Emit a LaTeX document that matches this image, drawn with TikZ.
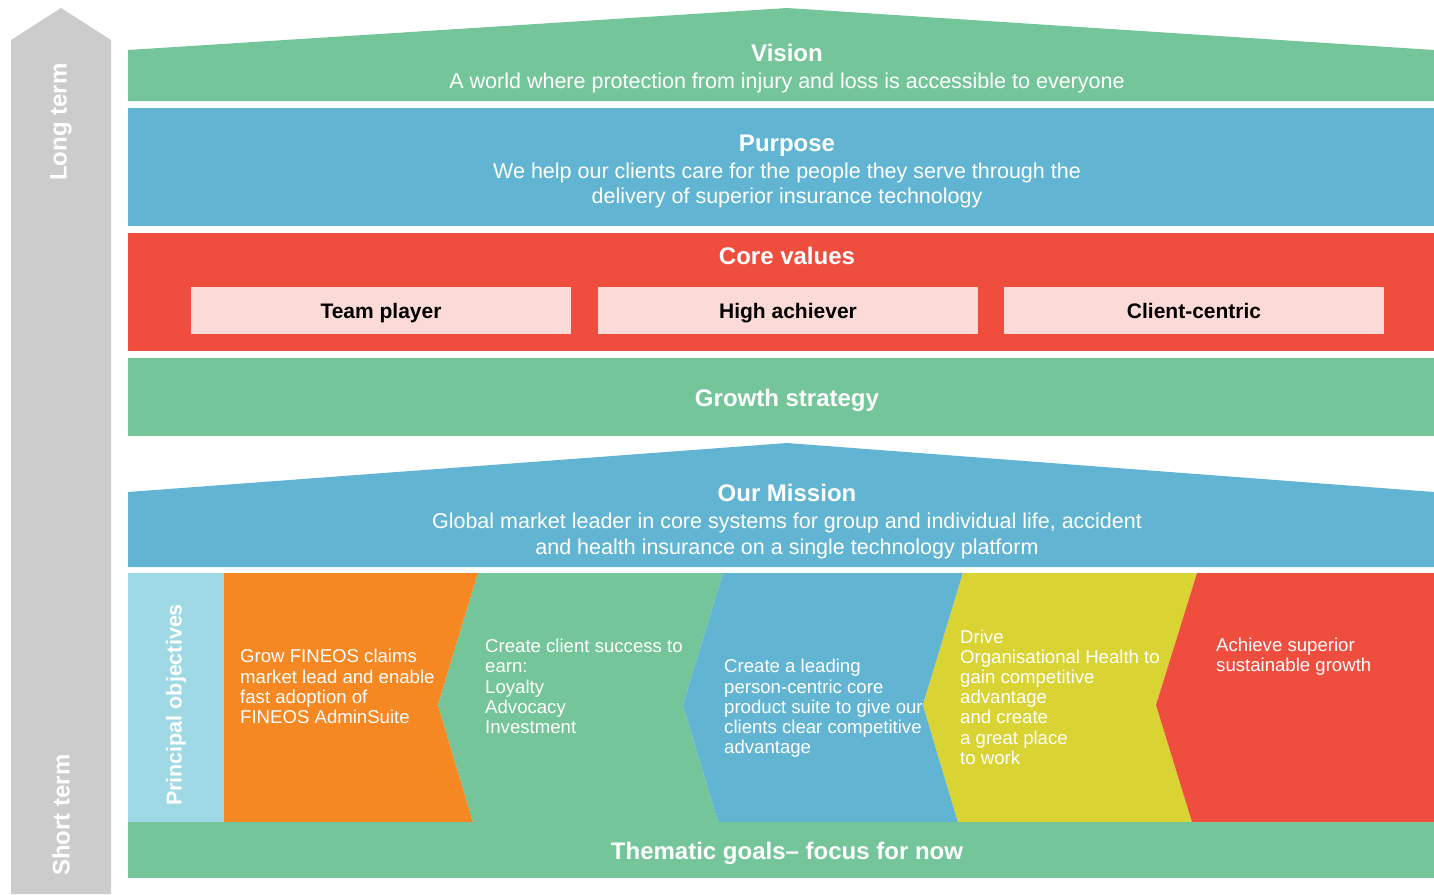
\documentclass[tikz,border=0pt]{standalone}
\usepackage{fontspec}
\setmainfont{Liberation Sans}
\definecolor{vgreen}{HTML}{74C69A}
\definecolor{vblue}{HTML}{62B5D2}
\definecolor{vred}{HTML}{EF4E3F}
\definecolor{vpink}{HTML}{FBDAD7}
\definecolor{vgray}{HTML}{CCCCCC}
\definecolor{vlblue}{HTML}{9FD9E5}
\definecolor{vorange}{HTML}{F58823}
\definecolor{vyellow}{HTML}{D9D334}
\newcommand{\fsz}[2]{\fontsize{#1}{#2}\selectfont}
\begin{document}
\begin{tikzpicture}[x=1pt,y=-1pt,
  title/.style={text=white,font=\fsz{24}{28}\bfseries,inner sep=0pt},
  sub/.style={text=white,font=\fsz{21.5}{25.5},inner sep=0pt,align=center},
  valbox/.style={text=black,font=\fsz{21}{24}\bfseries,inner sep=0pt},
  obj/.style={text=white,font=\fsz{18.6}{20.2},inner sep=0pt,align=left,anchor=west},
  side/.style={text=white,font=\fsz{24}{28}\bfseries,inner sep=0pt,rotate=90}]
\useasboundingbox (0,0) rectangle (1434,894);
% left arrow
\fill[vgray] (11,894) -- (11,40) -- (61,8) -- (111,40) -- (111,894) -- cycle;
\node[side] (lt) at (61,122) {Long term};
\node[side] (st) at (61,815) {Short term};
% vision
\fill[vgreen] (128,101) -- (128,50) -- (787,8) -- (1434,50) -- (1434,101) -- cycle;
\node[title] (vis) at (787,53) {Vision};
\node[sub] (vist) at (787,83) {A world where protection from injury and loss is accessible to everyone};
% purpose
\fill[vblue] (128,108) rectangle (1434,226);
\node[title] (pur) at (787,146) {Purpose};
\node[sub] (purt) at (787,185.5) {We help our clients care for the people they serve through the\\delivery of superior insurance technology};
% core values
\fill[vred] (128,233) rectangle (1434,351);
\node[title] (core) at (787,256) {Core values};
\fill[vpink] (191,287) rectangle (571,334);
\fill[vpink] (598,287) rectangle (978,334);
\fill[vpink] (1004,287) rectangle (1384,334);
\node[valbox] (v1) at (381,313) {Team player};
\node[valbox] (v2) at (788,313) {High achiever};
\node[valbox] (v3) at (1194,311) {Client-centric};
% growth
\fill[vgreen] (128,358) rectangle (1434,436);
\node[title] (grow) at (787,400) {Growth strategy};
% mission
\fill[vblue] (128,567) -- (128,492) -- (787,443) -- (1434,492) -- (1434,567) -- cycle;
\node[title] (mis) at (787,493) {Our Mission};
\node[sub] (mist) at (787,536) {Global market leader in core systems for group and individual life, accident\\and health insurance on a single technology platform};
% principal objectives
\fill[vlblue] (128,573) rectangle (224,822);
\node[side,font=\fsz{21.5}{24}\bfseries] (po) at (176,705) {Principal objectives};
\fill[vorange] (224,573) -- (478,573) -- (438,705) -- (473,822) -- (224,822) -- cycle;
\fill[vgreen] (478,573) -- (723,573) -- (683,705) -- (718,822) -- (473,822) -- (438,705) -- cycle;
\fill[vblue] (723,573) -- (963,573) -- (923,705) -- (958,822) -- (718,822) -- (683,705) -- cycle;
\fill[vyellow] (963,573) -- (1197,573) -- (1156,705) -- (1192,822) -- (958,822) -- (923,705) -- cycle;
\fill[vred] (1197,573) -- (1434,573) -- (1434,822) -- (1192,822) -- (1156,705) -- cycle;
\node[obj] (o1) at (240,686.5) {Grow FINEOS claims\\market lead and enable\\fast adoption of\\FINEOS AdminSuite};
\node[obj] (o2) at (485,686.5) {Create client success to\\earn:\\Loyalty\\Advocacy\\Investment};
\node[obj] (o3) at (724,708.5) {Create a leading\\person-centric core\\product suite to give our\\clients clear competitive\\advantage};
\node[obj] (o4) at (960,697) {Drive\\Organisational Health to\\gain competitive\\advantage\\and create\\a great place\\to work};
\node[obj] (o5) at (1216,657) {Achieve superior\\sustainable growth};
% thematic goals
\fill[vgreen] (128,822) rectangle (1434,878);
\node[title] (them) at (787,853) {Thematic goals– focus for now};
\end{tikzpicture}
\end{document}
